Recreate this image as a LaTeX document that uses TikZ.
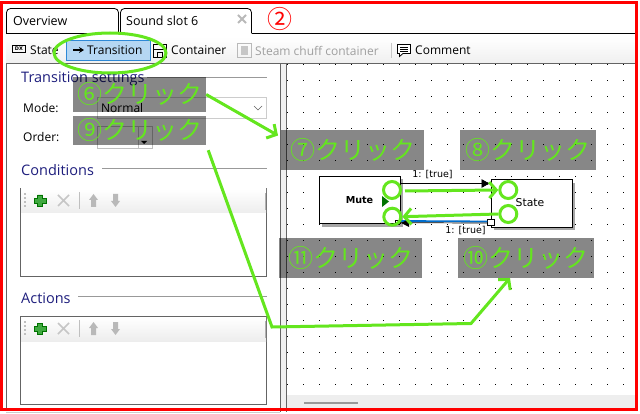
\documentclass[tikz,border=0pt]{standalone}
\usepackage{fontspec}
\setmainfont{Open Sans}
\newfontfamily\cjk{Noto Sans CJK JP}
\newfontfamily\boxfont{DejaVu Sans}
\definecolor{clickgreen}{RGB}{100, 230, 30}
\definecolor{headblue}{RGB}{30, 30, 125}
\definecolor{framered}{RGB}{255, 0, 0}
\definecolor{panelgray}{RGB}{100, 100, 100}
\definecolor{btnblue}{RGB}{181, 215, 243}
\definecolor{btnedge}{RGB}{46, 137, 214}
\definecolor{linkblue}{RGB}{0, 110, 205}
\usetikzlibrary{arrows.meta, positioning, calc, shapes.geometric}
\tikzset{
  uitext/.style={anchor=west, inner sep=0pt, font=\fontsize{12}{12}\selectfont},
  greytext/.style={uitext, text=gray!75},
  headtext/.style={anchor=west, inner sep=0pt, font=\fontsize{14.5}{15}\selectfont, text=headblue},
  clicklabel/.style={fill=black, fill opacity=0.47, text opacity=1, text=clickgreen, inner sep=0pt, font=\cjk\fontsize{25}{25}\selectfont},
  clickring/.style={draw=clickgreen, line width=3pt, circle, minimum size=17pt, inner sep=0pt},
  clickline/.style={draw=clickgreen, line width=3pt, -{Straight Barb[length=7pt, width=16pt]}},
  statebox/.style={draw=black, fill=white, line width=0.9pt, minimum width=81pt, minimum height=47.5pt, inner sep=0pt},
  smalltext/.style={inner sep=0pt, font=\boxfont\fontsize{9.5}{10}\selectfont},
}
\begin{document}
\begin{tikzpicture}[x=1pt, y=-1pt]
  \useasboundingbox (0, 0) rectangle (640, 414);
  \fill[white] (0, 0) rectangle (640, 414);

  % Toolbar and panels
  \shade[top color=white, bottom color=gray!12] (6, 37) rectangle (636, 63);
  \fill[gray!12] (280, 63) rectangle (286, 410);
  \fill[gray!13] (287, 395) rectangle (635, 409);
  \fill[gray!80] (304, 402) rectangle (358, 404);
  \draw[panelgray, line width=0.8pt] (6.5, 409) -- (6.5, 63.5) -- (636, 63.5);
  \draw[panelgray, line width=0.8pt] (280.5, 63.5) -- (280.5, 412);
  \draw[panelgray, line width=0.8pt] (286.5, 63.5) -- (286.5, 412);
  \draw[gray!40, line width=1pt] (6, 412.5) -- (280, 412.5);

  % Canvas dots
  \foreach \dotx in {287, 303, ..., 623} {
    \foreach \doty in {64, 80, ..., 384} {
      \fill[black] (\dotx, \doty) rectangle ++(1, 1);
    }
  }

  % Tabs
  \draw[black, line width=0.8pt, rounded corners=4pt] (6.5, 33.5) -- (6.5, 8.5) -- (118.5, 8.5) -- (118.5, 33.5);
  \draw[black, line width=0.8pt, rounded corners=4pt] (120.5, 33.5) -- (120.5, 8.5) -- (251.5, 8.5) -- (251.5, 33.5);
  \draw[black, line width=0.8pt] (6, 33.5) -- (120.5, 33.5);
  \draw[black, line width=0.8pt] (251.5, 33.5) -- (636, 33.5);
  \node[uitext, font=\fontsize{12.5}{13}\selectfont] (tabover) at (13, 21) {Overview};
  \node[uitext, font=\fontsize{12.5}{13}\selectfont] (tabslot) at (126, 21) {Sound slot 6};
  \draw[gray!55, line width=1.8pt] (238, 15) -- (246, 23) (246, 15) -- (238, 23);
  \node[inner sep=0pt, text=framered, font=\cjk\fontsize{25}{25}\selectfont] (redmark) at (279.5, 19) {②};

  % Toolbar items
  \draw[black, line width=0.8pt] (12.5, 45.5) rectangle (25.5, 52.5);
  \node[inner sep=0pt, font=\boxfont\bfseries\fontsize{5}{5}\selectfont] (dxicon) at (19, 49) {DX};
  \node[uitext] (tbstate) at (30, 50.5) {State};
  \node[draw=btnedge, fill=btnblue, line width=0.8pt, minimum width=84pt, minimum height=20pt, inner sep=0pt] (tbbutton) at (108, 50) {};
  \draw[black, line width=1.2pt, -{Stealth[length=5pt, width=6pt]}] (73, 50) -- (84, 50);
  \node[uitext] (tbtrans) at (87, 50.5) {Transition};
  \draw[black, line width=0.7pt] (153, 44.5) rectangle (166.5, 49.5);
  \draw[black, line width=0.7pt] (157, 52) rectangle (162.5, 57);
  \draw[black, line width=0.7pt] (153, 49.5) -- (153, 57.5) -- (166.5, 57.5) -- (166.5, 49.5);
  \node[uitext] (tbcont) at (171, 50.5) {Container};
  \draw[gray!55, line width=0.8pt] (237.5, 43.5) rectangle (251.5, 57.5);
  \fill[gray!45] (241, 46) rectangle (248, 55);
  \node[greytext] (tbsteam) at (255, 50.5) {Steam chuff container};
  \draw[gray!45, line width=0.7pt] (391.5, 43) -- (391.5, 58);
  \draw[black, line width=0.8pt, fill=white] (397.5, 44.5) -- (410.5, 44.5) -- (410.5, 53.5) -- (403, 53.5) -- (399.5, 56.5) -- (399.5, 53.5) -- (397.5, 53.5) -- cycle;
  \draw[black, line width=0.5pt] (400, 47) -- (408, 47) (400, 49) -- (408, 49) (400, 51) -- (408, 51);
  \node[uitext] (tbcomm) at (415, 50.5) {Comment};

  % Settings panel
  \node[headtext] (settitle) at (21, 79) {Transition settings};
  \draw[gray!80, line width=0.7pt] (147, 77.5) -- (267, 77.5);
  \node[uitext] (modetext) at (23, 108.5) {Mode:};
  \draw[gray!40, line width=0.8pt] (97.5, 97.5) rectangle (266.5, 118.5);
  \node[uitext] (modeval) at (101, 108.5) {Normal};
  \draw[panelgray, line width=0.7pt] (254, 106) -- (258, 110) -- (262, 106);
  \node[uitext] (ordertext) at (23, 137.5) {Order:};
  \draw[gray!50, line width=0.8pt] (97.5, 126.5) rectangle (152.5, 148.5);
  \draw[gray!50, line width=0.6pt] (138.5, 127) -- (138.5, 148);
  \fill[black] (141, 141) -- (147, 141) -- (144, 144) -- cycle;

  % Conditions and Actions lists
  \node[headtext] (condtitle) at (21, 170) {Conditions};
  \draw[gray!80, line width=0.7pt] (102, 168.5) -- (267, 168.5);
  \node[headtext] (acttitle) at (21, 298) {Actions};
  \draw[gray!80, line width=0.7pt] (78, 296.5) -- (267, 296.5);
  \foreach \listy in {188, 316} {
    \begin{scope}[shift={(0, \listy)}]
      \draw[panelgray, line width=0.8pt, fill=white] (20.5, 0.5) rectangle (266.5, 88.5);
      \shade[top color=white, bottom color=gray!14] (21, 1) rectangle (266, 25);
      \fill[gray!60] (265, 5) rectangle (266, 22);
      \foreach \gripy in {5, 9, ..., 17} {
        \fill[gray!50] (24, \gripy) rectangle ++(2, 2);
      }
      \draw[green!45!black, fill=green!55!black!75, line width=0.6pt] (37.5, 7) -- (42.5, 7) -- (42.5, 10.5) -- (46.5, 10.5) -- (46.5, 15) -- (42.5, 15) -- (42.5, 18.5) -- (37.5, 18.5) -- (37.5, 15) -- (34, 15) -- (34, 10.5) -- (37.5, 10.5) -- cycle;
      \draw[gray!45, line width=1.6pt] (58, 7) -- (69, 18) (69, 7) -- (58, 18);
      \draw[gray!50, line width=0.7pt] (79.5, 4) -- (79.5, 21);
      \fill[gray!55] (93.5, 6) -- (98, 12) -- (96, 12) -- (96, 19) -- (91, 19) -- (91, 12) -- (89, 12) -- cycle;
      \fill[gray!55] (115.5, 19) -- (120, 13) -- (118, 13) -- (118, 6) -- (113, 6) -- (113, 13) -- (111, 13) -- cycle;
    \end{scope}
  }

  % State boxes
  \fill[gray!70] (322, 179) rectangle (403, 227);
  \fill[gray!70] (494, 183) rectangle (575, 230);
  \node[statebox] (mute) at (359.5, 200) {};
  \node[inner sep=0pt, font=\boxfont\bfseries\fontsize{9.6}{10}\selectfont] (mutetext) at (359.5, 200) {Mute};
  \fill[green!45!black] (382, 196) -- (389, 201.5) -- (382, 207) -- cycle;
  \node[statebox] (state) at (531.5, 203.5) {};
  \node[inner sep=0pt, font=\boxfont\fontsize{10.8}{11}\selectfont] (statetext) at (530, 203) {State};
  \coordinate (topstart) at ($(mute.east)+(0, -16.5)$);
  \coordinate (topend) at ($(state.west)+(0, -20)$);
  \draw[black, line width=0.8pt, -{Latex[length=9pt, width=9pt]}] (topstart) -- (topend);
  \node[smalltext] (toplabel) at (432.5, 174.5) {1: [true]};
  \node[draw=black, fill=white, minimum size=6.5pt, inner sep=0pt, line width=0.7pt] (backhandle) at (491, 222.5) {};
  \node[draw=black, fill=white, minimum size=4pt, inner sep=0pt, line width=0.7pt] (backend) at (397.5, 222) {};
  \draw[linkblue, line width=1.8pt] ([yshift=1pt]backhandle.west) -- ([yshift=1pt]backend.east);
  \draw[black, line width=0.7pt] ([yshift=-0.6pt]backhandle.west) -- ([yshift=-0.6pt]backend.east);
  \fill[black] (401, 223) -- (409, 219) -- (409, 227) -- cycle;
  \node[smalltext] (backlabel) at (465.5, 231) {1: [true]};

  % Click labels
  \node[clicklabel, minimum width=133pt, minimum height=35pt] (clicksix) at (139.5, 94.5) {⑥クリック};
  \node[clicklabel, minimum width=133pt, minimum height=29pt] (clicknine) at (139.5, 130.5) {⑨クリック};
  \node[clicklabel, minimum width=143pt, minimum height=40pt] (clickseven) at (352.5, 150) {⑦クリック};
  \node[clicklabel, minimum width=136pt, minimum height=40pt] (clickeight) at (528, 150) {⑧クリック};
  \node[clicklabel, minimum width=143pt, minimum height=40pt] (clickeleven) at (350.5, 258) {⑪クリック};
  \node[clicklabel, minimum width=136pt, minimum height=40pt] (clickten) at (526, 258) {⑩クリック};

  % Click marks
  \node[draw=clickgreen, line width=3pt, ellipse, minimum width=112pt, minimum height=40pt, inner sep=0pt] (transring) at (110, 53) {};
  \node[clickring] (ringa) at (392, 190) {};
  \node[clickring] (ringb) at (392.3, 216.7) {};
  \node[clickring] (ringc) at (508.3, 190) {};
  \node[clickring] (ringd) at (508.3, 214) {};
  \coordinate (sevenhead) at (278, 135.5);
  \coordinate (ninefoot) at (272, 327);
  \coordinate (tenknee) at (471, 323.5);
  \coordinate (tenhead) at (510, 278);
  \draw[clickline] (clicksix.east) -- (sevenhead);
  \draw[clickline] (clicknine.south east) ++(2, 5) -- (ninefoot) -- (tenknee) -- (tenhead);
  \draw[clickline] (ringa.east) ++(3, 1) -- (ringc.west);
  \draw[clickline] (ringd.west) -- (ringb.east);

  % Red frame
  \draw[framered, line width=2.6pt] (1.5, 2.5) rectangle (636.5, 409.5);
\end{tikzpicture}
\end{document}
